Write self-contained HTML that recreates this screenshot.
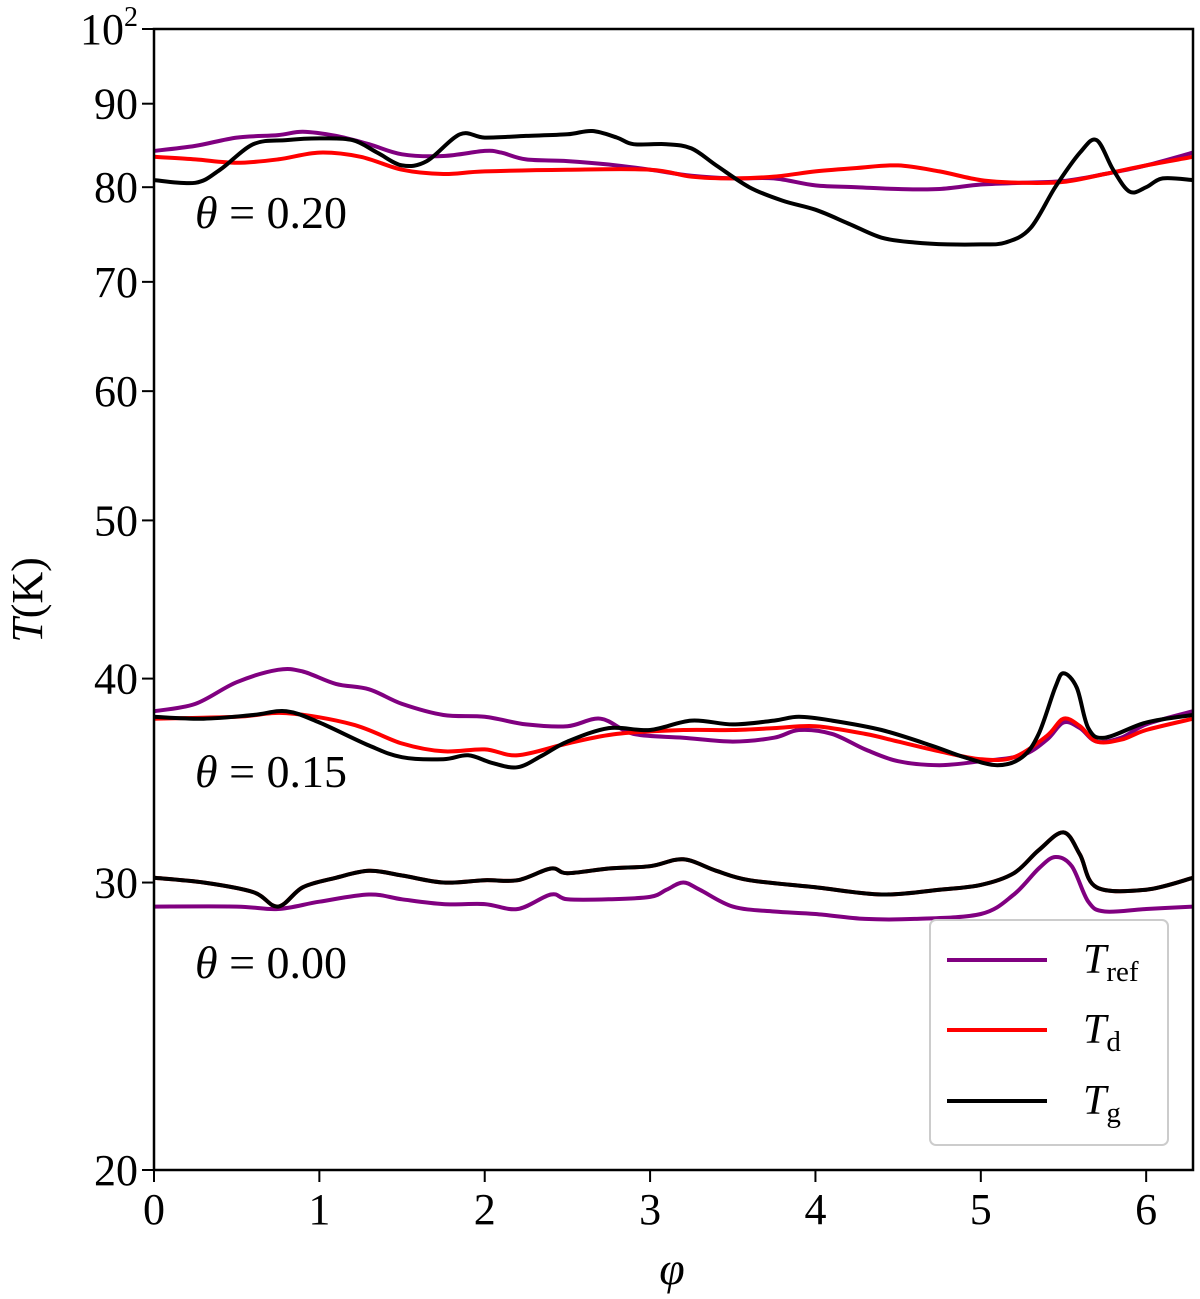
<!DOCTYPE html>
<html><head><meta charset="utf-8">
<style>
html,body{margin:0;padding:0;background:#fff;}
svg{display:block;}
text{font-family:"Liberation Serif",serif;fill:#000;}
</style></head>
<body>
<svg id="chart" width="1200" height="1299" viewBox="0 0 1200 1299">
  <g id="series"></g>
  <rect x="154" y="29" width="1039" height="1141" fill="none" stroke="#000" stroke-width="2.5"/>
  <g id="axes"></g>
  <text x="195" y="228" font-size="46" font-style="italic">θ <tspan font-style="normal">= 0.20</tspan></text>
  <text x="195" y="787" font-size="46" font-style="italic">θ <tspan font-style="normal">= 0.15</tspan></text>
  <text x="195" y="978" font-size="46" font-style="italic">θ <tspan font-style="normal">= 0.00</tspan></text>
  <text transform="translate(42,600) rotate(-90)" text-anchor="middle" font-size="44"><tspan font-style="italic">T</tspan>(K)</text>
  <text x="672" y="1284" text-anchor="middle" font-size="46" font-style="italic">φ</text>
  <g>
    <rect x="930" y="920" width="238" height="225" rx="6" fill="#fff" fill-opacity="0.85" stroke="#ccc" stroke-width="2"/>
    <line x1="947" y1="960" x2="1047" y2="960" stroke="#800080" stroke-width="4"/>
    <text x="1083" y="973" font-size="42"><tspan font-style="italic">T</tspan><tspan font-size="29" dy="8">ref</tspan></text>
    <line x1="947" y1="1030" x2="1047" y2="1030" stroke="#ff0000" stroke-width="4"/>
    <text x="1083" y="1043" font-size="42"><tspan font-style="italic">T</tspan><tspan font-size="29" dy="8">d</tspan></text>
    <line x1="947" y1="1101" x2="1047" y2="1101" stroke="#000" stroke-width="4"/>
    <text x="1083" y="1114" font-size="42"><tspan font-style="italic">T</tspan><tspan font-size="29" dy="8">g</tspan></text>
  </g>
</svg>
<script>
const xTicks = [0,1,2,3,4,5,6];
const yTicks = [20,30,40,50,60,70,80,90];
const yTickLabels = ["20","30","40","50","60","70","80","90"];

const ref20x = [0,0.25,0.5,0.75,0.9,1.1,1.3,1.5,1.75,2.0,2.1,2.25,2.5,2.75,3.0,3.25,3.5,3.75,4.0,4.25,4.5,4.75,5.0,5.25,5.5,5.75,6.0,6.283];
const ref20y = [84.2,84.8,85.8,86.1,86.5,86,85,83.8,83.6,84.2,84,83.2,83,82.6,82,81.3,81,81,80.2,80,79.8,79.8,80.3,80.5,80.7,81.5,82.5,84];
const td20x = [0,0.25,0.5,0.75,1.0,1.25,1.5,1.75,2.0,2.5,3.0,3.25,3.5,3.75,4.0,4.25,4.5,4.75,5.0,5.25,5.5,5.75,6.0,6.283];
const td20y = [83.5,83.2,82.8,83.2,84,83.5,82,81.5,81.8,82,82,81.2,81,81.2,81.8,82.2,82.5,81.8,80.8,80.5,80.6,81.5,82.5,83.5];
const tg20x = [0,0.25,0.4,0.6,0.8,1.0,1.2,1.35,1.5,1.65,1.85,2.0,2.25,2.5,2.65,2.8,2.9,3.1,3.25,3.4,3.6,3.8,4.0,4.2,4.4,4.6,4.8,5.0,5.15,5.3,5.45,5.6,5.7,5.8,5.9,6.0,6.1,6.283];
const tg20y = [80.8,80.5,82,85,85.5,85.7,85.5,84,82.5,83,86.2,85.8,86,86.2,86.6,85.8,85,85,84.5,82.5,80,78.5,77.5,76,74.5,74,73.8,73.8,74,75.5,80,84,85.5,82,79.5,80,81,80.8];

const ref15x = [0,0.25,0.5,0.75,0.9,1.1,1.3,1.5,1.75,2.0,2.25,2.5,2.7,2.9,3.2,3.5,3.75,3.9,4.1,4.3,4.5,4.75,5.0,5.25,5.4,5.5,5.6,5.7,5.85,6.0,6.283];
const ref15y = [38.2,38.6,39.8,40.5,40.4,39.7,39.4,38.6,38,37.9,37.5,37.4,37.8,37,36.8,36.6,36.8,37.2,37,36.2,35.6,35.4,35.6,35.9,36.7,37.6,37.3,36.6,36.8,37.5,38.2];
const td15x = [0,0.5,0.8,1.2,1.5,1.75,2.0,2.2,2.5,2.8,3.2,3.5,3.75,4.0,4.3,4.5,4.75,5.0,5.2,5.4,5.5,5.6,5.7,5.85,6.0,6.283];
const td15y = [37.8,37.9,38.1,37.5,36.5,36.1,36.2,35.9,36.5,37,37.2,37.2,37.3,37.4,37,36.6,36.1,35.7,35.8,36.9,37.8,37.4,36.6,36.7,37.2,37.8];
const tg15x = [0,0.3,0.6,0.8,1.0,1.3,1.5,1.75,1.9,2.05,2.2,2.35,2.5,2.75,3.0,3.25,3.5,3.75,3.9,4.1,4.4,4.7,4.9,5.1,5.25,5.35,5.45,5.5,5.58,5.65,5.75,6.0,6.283];
const tg15y = [37.9,37.8,38,38.2,37.6,36.4,35.8,35.7,35.9,35.5,35.3,35.9,36.6,37.3,37.2,37.7,37.5,37.7,37.9,37.7,37.2,36.4,35.8,35.4,35.8,37,39.5,40.3,39.5,37.3,36.8,37.6,38];

const ref00x = [0,0.5,0.75,1.0,1.3,1.5,1.75,2.0,2.2,2.4,2.5,2.75,3.0,3.1,3.2,3.3,3.5,3.75,4.0,4.3,4.6,5.0,5.2,5.35,5.45,5.55,5.65,5.75,6.0,6.283];
const ref00y = [29,29,28.9,29.2,29.5,29.3,29.1,29.1,28.9,29.5,29.3,29.3,29.4,29.7,30,29.7,29.0,28.8,28.7,28.5,28.5,28.7,29.5,30.6,31.1,30.7,29.2,28.8,28.9,29.0];
const tg00x = [0,0.3,0.6,0.75,0.9,1.1,1.3,1.5,1.75,2.0,2.2,2.4,2.5,2.75,3.0,3.2,3.4,3.6,4.0,4.4,4.75,5.0,5.2,5.35,5.5,5.6,5.7,6.0,6.283];
const tg00y = [30.2,30.0,29.6,29.0,29.8,30.2,30.5,30.3,30.0,30.1,30.1,30.6,30.4,30.6,30.7,31.0,30.5,30.1,29.8,29.5,29.7,29.9,30.4,31.4,32.2,31.2,29.8,29.7,30.2];
const td00y = [30.2,30.0,29.6,29.0,29.8,30.2,30.5,30.3,30.0,30.1,30.1,30.6,30.4,30.6,30.7,31.0,30.5,30.1,29.8,29.5,29.7,29.9,30.4,31.4,32.2,31.2,29.8,29.7,30.2];

const X0=154, X1=1193, Y0=1170, Y1=29;
const xScale = v => X0 + v/(2*Math.PI)*(X1-X0);
const yScale = v => Y0 - Math.log10(v/20)/Math.log10(100/20)*(Y0-Y1);
const NS="http://www.w3.org/2000/svg";

function pathFrom(xs, ys){
  const p = xs.map((x,i)=>[xScale(x), yScale(ys[i])]);
  let d = "M"+p[0][0].toFixed(1)+","+p[0][1].toFixed(1);
  for(let i=0;i<p.length-1;i++){
    const a=p[Math.max(i-1,0)], b=p[i], c=p[i+1], e=p[Math.min(i+2,p.length-1)];
    const c1=[b[0]+(c[0]-a[0])/6, b[1]+(c[1]-a[1])/6];
    const c2=[c[0]-(e[0]-b[0])/6, c[1]-(e[1]-b[1])/6];
    d+=" C"+c1[0].toFixed(1)+","+c1[1].toFixed(1)+" "+c2[0].toFixed(1)+","+c2[1].toFixed(1)+" "+c[0].toFixed(1)+","+c[1].toFixed(1);
  }
  return d;
}
const sg=document.getElementById('series');
function addLine(xs, ys, color, name){
  const el=document.createElementNS(NS,'path');
  el.setAttribute('d', pathFrom(xs,ys));
  el.setAttribute('fill','none');
  el.setAttribute('stroke',color);
  el.setAttribute('stroke-width','4');
  el.setAttribute('stroke-linejoin','round');
  
  
  sg.appendChild(el);
}
addLine(ref20x, ref20y, '#800080', 'line-tref-theta-020');
addLine(td20x, td20y, '#ff0000', 'line-td-theta-020');
addLine(tg20x, tg20y, '#000000', 'line-tg-theta-020');
addLine(ref15x, ref15y, '#800080', 'line-tref-theta-015');
addLine(td15x, td15y, '#ff0000', 'line-td-theta-015');
addLine(tg15x, tg15y, '#000000', 'line-tg-theta-015');
addLine(ref00x, ref00y, '#800080', 'line-tref-theta-000');
addLine(tg00x, td00y, '#ff0000', 'line-td-theta-000');
addLine(tg00x, tg00y, '#000000', 'line-tg-theta-000');

const ax=document.getElementById('axes');
xTicks.forEach(t=>{
  const x=xScale(t);
  const l=document.createElementNS(NS,'line');
  l.setAttribute('x1',x);l.setAttribute('x2',x);l.setAttribute('y1',Y0);l.setAttribute('y2',Y0+12);
  l.setAttribute('stroke','#000');l.setAttribute('stroke-width','2');
  
  
  ax.appendChild(l);
  const tx=document.createElementNS(NS,'text');
  tx.setAttribute('x',x);tx.setAttribute('y',Y0+54);tx.setAttribute('text-anchor','middle');tx.setAttribute('font-size','44');
  tx.textContent=String(t);
  
  
  ax.appendChild(tx);
});
yTicks.forEach((t,i)=>{
  const y=yScale(t);
  const l=document.createElementNS(NS,'line');
  l.setAttribute('x1',X0-12);l.setAttribute('x2',X0);l.setAttribute('y1',y);l.setAttribute('y2',y);
  l.setAttribute('stroke','#000');l.setAttribute('stroke-width','2');
  
  
  ax.appendChild(l);
  const tx=document.createElementNS(NS,'text');
  tx.setAttribute('x',X0-16);tx.setAttribute('y',y+15);tx.setAttribute('text-anchor','end');tx.setAttribute('font-size','44');
  tx.textContent=yTickLabels[i];
  
  
  ax.appendChild(tx);
});
const topLabel=document.createElementNS(NS,'text');
topLabel.setAttribute('x',X0-16);topLabel.setAttribute('y',Y1+15);topLabel.setAttribute('text-anchor','end');topLabel.setAttribute('font-size','44');
topLabel.innerHTML='10<tspan font-size="28" dy="-18">2</tspan>';


ax.appendChild(topLabel);
const topTick=document.createElementNS(NS,'line');
topTick.setAttribute('x1',X0-12);topTick.setAttribute('x2',X0);topTick.setAttribute('y1',Y1);topTick.setAttribute('y2',Y1);
topTick.setAttribute('stroke','#000');topTick.setAttribute('stroke-width','2');


ax.appendChild(topTick);
</script>
</body></html>
